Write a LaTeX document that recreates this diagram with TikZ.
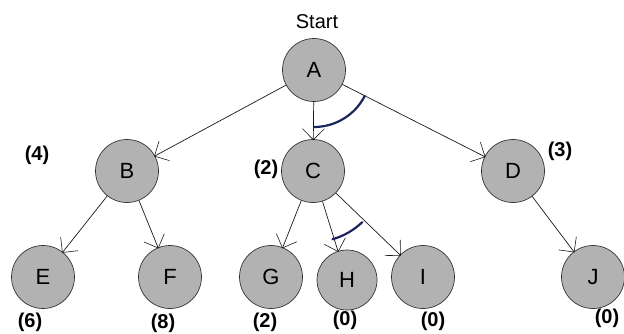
\documentclass[tikz,border=0pt]{standalone}
\usepackage{fontspec}
\setmainfont{Liberation Sans}
\usetikzlibrary{arrows.meta,calc}
\begin{document}
\begin{tikzpicture}[x=1pt,y=-1pt,
  st/.style={circle,draw=black!80,line width=0.7pt,fill=black!30,minimum size=63pt,inner sep=0pt,font=\fontsize{22}{24}\selectfont},
  edge/.style={draw=black!90,line width=0.7pt,-{Straight Barb[length=11pt,width=22pt,line width=0.6pt]},shorten >=-1pt},
  lab/.style={font=\bfseries\fontsize{20}{22}\selectfont},
  txt/.style={font=\fontsize{20}{22}\selectfont},
  andarc/.style={draw={rgb,255:red,28;green,36;blue,92},line width=2.2pt,line cap=round}]
\useasboundingbox (0,0) rectangle (624,333);
\node[txt] (start) at (317,22) {Start};
\node[st] (A) at (314,70) {A};
\node[st] (B) at (127,171) {B};
\node[st] (C) at (313,171) {C};
\node[st] (D) at (513,171) {D};
\node[st] (E) at (43,277) {E};
\node[st] (F) at (170,277) {F};
\node[st] (G) at (271,277) {G};
\node[st,minimum size=60pt] (H) at (347,280) {H};
\node[st] (I) at (423,277) {I};
\node[st] (J) at (593,277) {J};
\draw[edge] (A) -- (B);
\draw[edge] (A) -- (C);
\draw[edge] (A) -- (D);
\draw[edge] (B) -- (E);
\draw[edge] (B) -- (F);
\draw[edge] (C) -- (G);
\draw[edge] (C) -- (H);
\draw[edge] (C) -- (I);
\draw[edge] (D) -- (J);
\draw[andarc] ($(A.center)+(-90:57pt)$) arc[start angle=-90,end angle=-27,radius=57pt];
\draw[andarc] ($(C.center)+(-74:71pt)$) arc[start angle=-74,end angle=-46,radius=71pt];
\node[lab] (l4) at (37,155) {(4)};
\node[lab] (l2c) at (266,169) {(2)};
\node[lab] (l3) at (560,151) {(3)};
\node[lab] (l6) at (30,322) {(6)};
\node[lab] (l8) at (163,323) {(8)};
\node[lab] (l2g) at (265,322) {(2)};
\node[lab] (l0h) at (345,320) {(0)};
\node[lab] (l0i) at (433,321) {(0)};
\node[lab] (l0j) at (607,318) {(0)};
\end{tikzpicture}
\end{document}
